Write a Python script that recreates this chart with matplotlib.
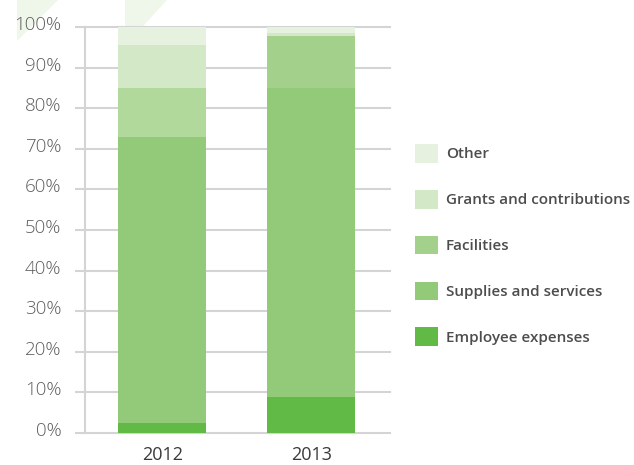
import matplotlib
matplotlib.use("Agg")
import matplotlib.pyplot as plt
from matplotlib.patches import Patch, Polygon
import matplotlib.transforms as mtransforms
import numpy as np

# share of expenses per year (%)
years = ["2012", "2013"]
series = ["Employee expenses", "Supplies and services", "Facilities",
          "Grants and contributions", "Other"]
employee = [2.5, 8.8]
supplies = [70.3, 76.2]
facilities = [12.2, 12.8]
grants = [10.5, 0.7]
other = [4.5, 1.5]

colors = ["#62ba46", "#93ca7a", "#a3d08a", "#d3e8c6", "#e6f2df"]
facilities_colors = ["#b1d99c", "#a3d08a"]  # 2012 band is drawn lighter

plt.rcParams['font.family'] = ['Open Sans', 'DejaVu Sans']

fig = plt.figure(figsize=(6.34, 4.65), dpi=100)

# faint background decoration at the top
for pts in [[(17, 0), (58, 0), (17, 41)], [(125, 0), (167, 0), (125, 46)]]:
    fig.patches.append(Polygon([(x / 634, 1 - y / 465) for x, y in pts],
                               closed=True, transform=fig.transFigure,
                               facecolor="#eef7ea", edgecolor="none", zorder=-5))

ax = fig.add_axes([85 / 634, 1 - 433 / 465, 305 / 634, 406 / 465])
ax.patch.set_alpha(0)

x = np.arange(len(years))
w = 0.59
bottom = np.zeros(len(years))
data = [employee, supplies, facilities, grants, other]
for i, vals in enumerate(data):
    c = facilities_colors if series[i] == "Facilities" else colors[i]
    ax.bar(x, vals, w, bottom=bottom, color=c, zorder=3, linewidth=0)
    bottom += np.array(vals)

ax.set_xlim(-0.52, 1.53)
ax.set_ylim(0, 100)
ax.set_yticks(np.arange(0, 101, 10))
ax.set_yticklabels([f"{v}%" for v in range(0, 101, 10)])
ax.set_xticks(x)
ax.set_xticklabels(years)

grid_c = "#d4d4d4"
ax.yaxis.grid(True, color=grid_c, linewidth=1.5, zorder=1)
ax.set_axisbelow(True)
for s in ["top", "right", "bottom"]:
    ax.spines[s].set_visible(False)
ax.spines["left"].set_color(grid_c)
ax.spines["left"].set_linewidth(1.5)
for ln in ax.get_ygridlines():
    ln.set_clip_on(False)

ax.tick_params(axis="y", length=7, width=1.5, color=grid_c, pad=10,
               labelsize=13.5, labelcolor="#5e5e5e")
ax.tick_params(axis="x", length=0, pad=9.5, labelsize=13, labelcolor="#3a3a3a")

offset = mtransforms.ScaledTranslation(0, 4 / 100, fig.dpi_scale_trans)
for lab in ax.get_yticklabels():
    lab.set_transform(lab.get_transform() + offset)
    lab.set_fontweight("light")

handles = [Patch(facecolor=colors[i], edgecolor="none") for i in range(len(series))][::-1]
leg = fig.legend(handles, series[::-1], loc="upper left",
                 bbox_to_anchor=(409 / 634, 1 - 138 / 465),
                 frameon=False, handlelength=1.5, handleheight=1.5,
                 labelspacing=1.78, handletextpad=0.5, borderaxespad=0,
                 prop={"weight": "semibold", "size": 11})
for t in leg.get_texts():
    t.set_color("#4d4d4d")

fig.savefig("out.png", dpi=100)
